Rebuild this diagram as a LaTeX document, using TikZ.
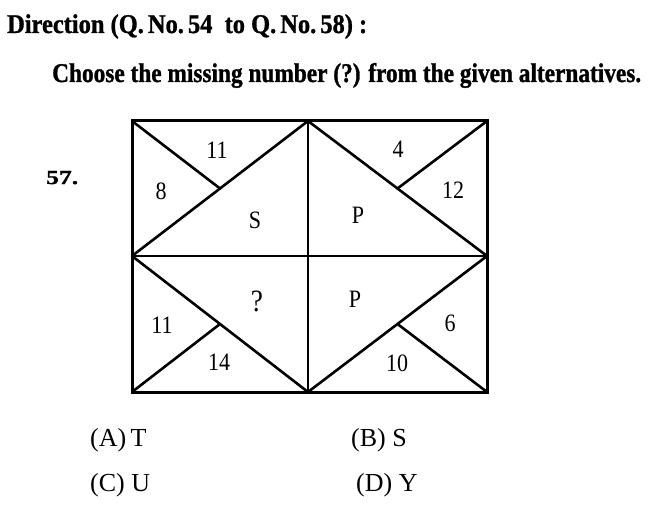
\documentclass[tikz,border=0pt]{standalone}
\usepackage{fontspec}
\usepackage{graphicx}
\usetikzlibrary{calc}
\setmainfont{Liberation Serif}
\newfontfamily\condfont[FakeStretch=0.88]{Liberation Serif}
\newfontfamily\headfont[FakeBold=1.2]{Liberation Serif Bold}
\begin{document}
\begin{tikzpicture}[x=1pt,y=-1pt,
  gridline/.style={line width=2.6pt,line cap=round,line join=round},
  frameline/.style={line width=3pt,line join=miter},
  lbl/.style={inner sep=0pt,font=\condfont\fontsize{25}{27}\selectfont},
  opt/.style={inner sep=0pt,anchor=base west,font=\fontsize{26}{28}\selectfont},
  head/.style={inner sep=0pt,anchor=base west,font=\headfont\fontsize{27}{29}\selectfont}]
\useasboundingbox[fill=white] (0,0) rectangle (656,508);
% header
\node[head] (h1) at (7,33) {\resizebox{360pt}{\height}{Direction (Q.\,No.\,54\ \ to Q.\,No.\,58) :}};
\node[head] (h2) at (52,82) {\resizebox{589pt}{\height}{Choose the missing number (?) from the given alternatives.}};
\node[inner sep=0pt,anchor=base west,font=\headfont\fontsize{20}{22}\selectfont] (qn) at (46,184) {\resizebox{32pt}{\height}{57.}};
% grid coordinates
\coordinate (tl) at (132,121); \coordinate (tm) at (308,121); \coordinate (tr) at (487,121);
\coordinate (ml) at (132,256); \coordinate (mm) at (308,256); \coordinate (mr) at (487,256);
\coordinate (bl) at (132,392); \coordinate (bm) at (308,392); \coordinate (br) at (487,392);
\coordinate (ca) at ($(ml)!0.5!(tm)$);
\coordinate (cb) at ($(tm)!0.5!(mr)$);
\coordinate (cc) at ($(ml)!0.5!(bm)$);
\coordinate (cd) at ($(bm)!0.5!(mr)$);
% lines
\draw[gridline] (tm) -- (bm);
\draw[gridline] (ml) -- (mr);
\draw[gridline] (ml) -- (tm);
\draw[gridline] (tl) -- (ca);
\draw[gridline] (tm) -- (mr);
\draw[gridline] (tr) -- (cb);
\draw[gridline] (ml) -- (bm);
\draw[gridline] (bl) -- (cc);
\draw[gridline] (bm) -- (mr);
\draw[gridline] (br) -- (cd);
\draw[frameline] (tl) rectangle (br);
% labels
\node[lbl] (n11a) at (217,150) {11};
\node[lbl] (n8) at (161,191) {8};
\node[lbl] (sS) at (255,220) {S};
\node[lbl] (n4) at (398,149) {4};
\node[lbl] (n12) at (453,190) {12};
\node[lbl] (pA) at (358,215) {P};
\node[lbl,font=\condfont\fontsize{31}{33}\selectfont] (qm) at (257,301) {?};
\node[lbl] (n11b) at (162,325) {11};
\node[lbl] (n14) at (219,362) {14};
\node[lbl] (pB) at (355,299) {P};
\node[lbl] (n6) at (450,323) {6};
\node[lbl] (n10) at (397,363) {10};
% options
\node[opt] (oa) at (90,446) {(A)\,T};
\node[opt] (ob) at (351,446) {(B) S};
\node[opt] (oc) at (90,491) {(C) U};
\node[opt] (od) at (356,491) {(D) Y};
\end{tikzpicture}
\end{document}
